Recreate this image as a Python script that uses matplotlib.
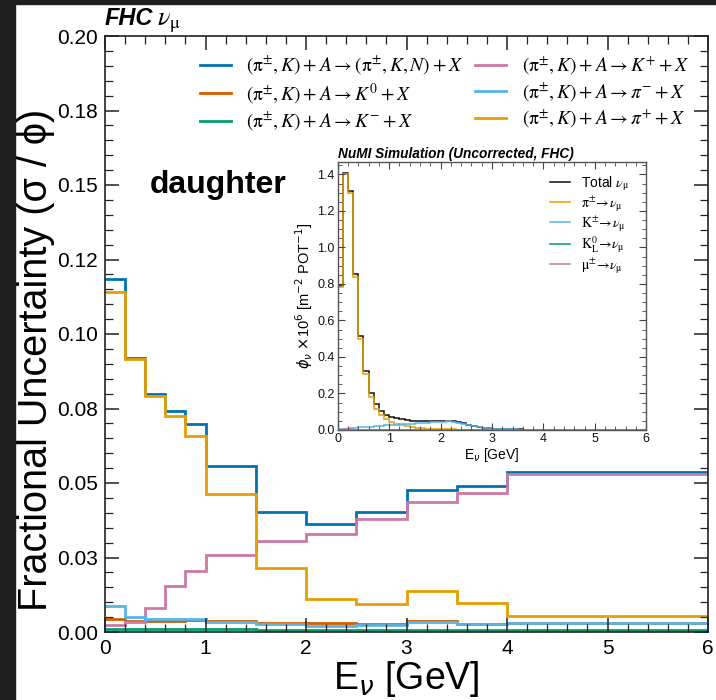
import matplotlib
matplotlib.use("Agg")
import matplotlib.pyplot as plt
import numpy as np
from matplotlib.lines import Line2D
from matplotlib.patches import Rectangle
from matplotlib.ticker import MultipleLocator, FixedLocator, FixedFormatter, FormatStrFormatter

plt.rcParams['font.family'] = ['Liberation Sans', 'DejaVu Sans']
plt.rcParams['mathtext.fontset'] = 'stix'

# ---- fractional uncertainty from hadron production, by daughter category ----
bin_edges = [0, 0.2, 0.4, 0.6, 0.8, 1.0, 1.5, 2.0, 2.5, 3.0, 3.5, 4.0, 6.0]
unc_all = [0.1185, 0.0921, 0.0799, 0.0743, 0.0699, 0.0557, 0.0402, 0.0364, 0.0404, 0.0477, 0.0490, 0.0537]
unc_k0 = [0.0043, 0.0036, 0.0036, 0.0038, 0.0039, 0.0038, 0.0030, 0.0030, 0.0027, 0.0036, 0.0028, 0.0030]
unc_kminus = [0.0011, 0.0009, 0.0009, 0.0009, 0.0009, 0.0009, 0.0008, 0.0008, 0.0008, 0.0008, 0.0008, 0.0008]
unc_kplus = [0.0022, 0.0034, 0.0082, 0.0153, 0.0204, 0.0258, 0.0305, 0.0328, 0.0378, 0.0436, 0.0467, 0.0530]
unc_piminus = [0.0087, 0.0049, 0.0044, 0.0044, 0.0042, 0.0033, 0.0027, 0.0019, 0.0023, 0.0033, 0.0026, 0.0031]
unc_piplus = [0.1142, 0.0915, 0.0793, 0.0726, 0.0658, 0.0462, 0.0214, 0.0111, 0.0094, 0.0137, 0.0097, 0.0053]

series_labels = [
    r'$(\mathrm{\pi}^{\pm}, K) + A \rightarrow (\mathrm{\pi}^{\pm}, K, N) + X$',
    r'$(\mathrm{\pi}^{\pm}, K) + A \rightarrow K^{0} + X$',
    r'$(\mathrm{\pi}^{\pm}, K) + A \rightarrow K^{-} + X$',
    r'$(\mathrm{\pi}^{\pm}, K) + A \rightarrow K^{+} + X$',
    r'$(\mathrm{\pi}^{\pm}, K) + A \rightarrow \pi^{-} + X$',
    r'$(\mathrm{\pi}^{\pm}, K) + A \rightarrow \pi^{+} + X$',
]
series_values = [unc_all, unc_k0, unc_kminus, unc_kplus, unc_piminus, unc_piplus]
series_colors = ['#0072B2', '#D55E00', '#009E73', '#CC79A7', '#56B4E9', '#E69F00']

y_ticks = [0.0, 0.025, 0.05, 0.075, 0.10, 0.125, 0.15, 0.175, 0.20]
y_ticklabels = ['0.00', '0.03', '0.05', '0.08', '0.10', '0.12', '0.15', '0.18', '0.20']

# ---- inset: simulated muon-neutrino flux by parent ----
flux_edges = np.linspace(0, 6, 61)
flux_total = [0.788, 1.410, 1.309, 0.855, 0.516, 0.324, 0.200, 0.140, 0.106, 0.084,
              0.072, 0.065, 0.059, 0.055, 0.052, 0.051, 0.050, 0.050, 0.051, 0.051,
              0.051, 0.051, 0.049, 0.044, 0.036, 0.029, 0.023, 0.017, 0.013, 0.010,
              0.008, 0.0062, 0.0051, 0.0043, 0.0035, 0.0029, 0.0025, 0.0021, 0.0018, 0.0016,
              0.0014, 0.0012, 0.0011, 0.0010, 0.0009, 0.0008, 0.0007, 0.0007, 0.0006, 0.0006,
              0.0005, 0.0005, 0.0005, 0.0004, 0.0004, 0.0004, 0.0003, 0.0003, 0.0003, 0.0003]
flux_pi = [0.781, 1.400, 1.296, 0.840, 0.498, 0.305, 0.179, 0.117, 0.082, 0.058,
           0.044, 0.035, 0.027, 0.021, 0.016, 0.013, 0.010, 0.008, 0.0065, 0.0052,
           0.0042, 0.0034, 0.0028, 0.0023, 0.0019, 0.0015, 0.0012, 0.0010, 0.0008, 0.0007,
           0.0006, 0.0005, 0.0004, 0.0004, 0.0003, 0.0003, 0.0003, 0.0002, 0.0002, 0.0002,
           0.0002, 0.0002, 0.0002, 0.0001, 0.0001, 0.0001, 0.0001, 0.0001, 0.0001, 0.0001,
           0.0001, 0.0001, 0.0001, 0.0001, 0.0001, 0.0001, 0.0001, 0.0001, 0.0001, 0.0001]
flux_k = [0.004, 0.007, 0.010, 0.012, 0.015, 0.017, 0.019, 0.021, 0.023, 0.025,
          0.027, 0.029, 0.031, 0.033, 0.035, 0.037, 0.039, 0.041, 0.043, 0.045,
          0.046, 0.047, 0.046, 0.041, 0.034, 0.027, 0.021, 0.016, 0.012, 0.009,
          0.007, 0.0055, 0.0045, 0.0037, 0.0030, 0.0025, 0.0021, 0.0018, 0.0015, 0.0013,
          0.0011, 0.0010, 0.0009, 0.0008, 0.0007, 0.0006, 0.0006, 0.0005, 0.0005, 0.0004,
          0.0004, 0.0004, 0.0003, 0.0003, 0.0003, 0.0003, 0.0002, 0.0002, 0.0002, 0.0002]
flux_k0l = [0.0004, 0.0006, 0.0008, 0.0009, 0.0010, 0.0010, 0.0011, 0.0011, 0.0011, 0.0011,
            0.0011, 0.0011, 0.0011, 0.0010, 0.0010, 0.0010, 0.0009, 0.0009, 0.0008, 0.0008,
            0.0007, 0.0007, 0.0006, 0.0006, 0.0005, 0.0005, 0.0004, 0.0004, 0.0004, 0.0003,
            0.0003, 0.0003, 0.0003, 0.0002, 0.0002, 0.0002, 0.0002, 0.0002, 0.0002, 0.0001,
            0.0001, 0.0001, 0.0001, 0.0001, 0.0001, 0.0001, 0.0001, 0.0001, 0.0001, 0.0001,
            0.0001, 0.0001, 0.0001, 0.0001, 0.0001, 0.0001, 0.0001, 0.0001, 0.0001, 0.0001]
flux_mu = [0.0020, 0.0030, 0.0030, 0.0025, 0.0020, 0.0016, 0.0012, 0.0010, 0.0008, 0.0006,
           0.0005, 0.0004, 0.0003, 0.0003, 0.0002, 0.0002, 0.0002, 0.0001, 0.0001, 0.0001,
           0.0001, 0.0001, 0.0001, 0.0001, 0.0001, 0.0001, 0.0001, 0.0001, 0.0001, 0.0001,
           0.0, 0.0, 0.0, 0.0, 0.0, 0.0, 0.0, 0.0, 0.0, 0.0,
           0.0, 0.0, 0.0, 0.0, 0.0, 0.0, 0.0, 0.0, 0.0, 0.0,
           0.0, 0.0, 0.0, 0.0, 0.0, 0.0, 0.0, 0.0, 0.0, 0.0]
flux_labels = [r'Total $\nu_{\mathrm{\mu}}$', r'$\mathrm{\pi^{\pm}}\!\rightarrow\!\nu_{\mathrm{\mu}}$',
               r'$\mathrm{K^{\pm}}\!\rightarrow\!\nu_{\mathrm{\mu}}$',
               r'$\mathrm{K^{0}_{L}}\!\rightarrow\!\nu_{\mathrm{\mu}}$',
               r'$\mathrm{\mu^{\pm}}\!\rightarrow\!\nu_{\mathrm{\mu}}$']
flux_values = [flux_total, flux_pi, flux_k, flux_k0l, flux_mu]
flux_colors = ['#111111', '#E69F00', '#56B4E9', '#009E73', '#CC79A7']

W, H = 716, 700
fig = plt.figure(figsize=(W / 100, H / 100), dpi=100)
fig.patch.set_facecolor('white')

# dark frame strips along the left and top edges
fig.patches.append(Rectangle((0, 0), 15 / W, 1, transform=fig.transFigure,
                             color='#1e1e1e', zorder=0))
fig.patches.append(Rectangle((0, 1 - 3.5 / H), 1, 3.5 / H, transform=fig.transFigure,
                             color='#1e1e1e', zorder=0))

ax = fig.add_axes([105 / W, 1 - 632 / H, 603 / W, 596 / H])
for vals, col in zip(series_values, series_colors):
    ax.stairs(vals, bin_edges, color=col, lw=2.0, baseline=None)

ax.set_xlim(0, 6)
ax.set_ylim(0, 0.2)
ax.xaxis.set_major_locator(MultipleLocator(1))
ax.xaxis.set_minor_locator(MultipleLocator(0.2))
ax.yaxis.set_major_locator(FixedLocator(y_ticks))
ax.yaxis.set_major_formatter(FixedFormatter(y_ticklabels))
ax.yaxis.set_minor_locator(MultipleLocator(0.005))
ax.tick_params(which='both', direction='in', top=True, right=True, colors='#222222',
               labelcolor='black')
ax.tick_params(which='major', length=10, width=1.1, labelsize=15, pad=5)
ax.tick_params(which='minor', length=5.5, width=0.9)
for sp in ax.spines.values():
    sp.set_color('#222222')
    sp.set_linewidth(1.2)

ax.set_xlabel(r'E$_{\nu}$ [GeV]', fontsize=27, math_fontfamily='dejavusans', labelpad=0.5)
ax.set_ylabel('Fractional Uncertainty (σ / ϕ)', fontsize=28.5)
ax.yaxis.set_label_coords(-0.083, 0.456)

handles = [Line2D([], [], color=c, lw=2.0) for c in series_colors]
ax.legend(handles, series_labels, ncol=2, loc='upper right', frameon=False,
          fontsize=14, handlelength=1.6, handletextpad=0.8, columnspacing=0.6,
          labelspacing=0.22, borderaxespad=0.55)

ax.text(0.0746, 0.7366, 'daughter', transform=ax.transAxes, fontsize=23,
        fontweight='bold', va='baseline', ha='left')

fig.text(105 / W, 1 - 25 / H, 'FHC', fontsize=17, fontweight='bold', style='italic',
         va='baseline', ha='left')
fig.text(157 / W, 1 - 25 / H, r'$\nu_{\mathrm{\mu}}$', fontsize=19, va='baseline', ha='left')

# ---- inset flux panel ----
ins = fig.add_axes([337.7 / W, 1 - 430 / H, 308.5 / W, 268.3 / H])
for vals, col in zip(flux_values, flux_colors):
    ins.stairs(vals, flux_edges, color=col, lw=1.1)
ins.set_xlim(0, 6)
ins.set_ylim(0, 1.47)
ins.xaxis.set_major_locator(MultipleLocator(1))
ins.xaxis.set_minor_locator(MultipleLocator(0.2))
ins.yaxis.set_major_locator(MultipleLocator(0.2))
ins.yaxis.set_minor_locator(MultipleLocator(0.05))
ins.yaxis.set_major_formatter(FormatStrFormatter('%.1f'))
ins.tick_params(which='both', direction='in', top=True, right=True, colors='#444444',
                labelcolor='#111111')
ins.tick_params(which='major', length=5, width=0.8, labelsize=9, pad=2)
ins.tick_params(which='minor', length=2.8, width=0.6)
for sp in ins.spines.values():
    sp.set_color('#555555')
    sp.set_linewidth(1.0)
ins.set_xlabel(r'E$_{\nu}$ [GeV]', fontsize=10, math_fontfamily='dejavusans', labelpad=1)
ins.set_ylabel(r'$\phi_{\nu}$ $\times$10$^{6}$ [m$^{-2}$ POT$^{-1}$]', fontsize=10.5,
               math_fontfamily='dejavusans', labelpad=2)
ins.set_title('NuMI Simulation (Uncorrected, FHC)', loc='left', fontsize=9.8,
              fontweight='bold', style='italic', pad=3)
ins_handles = [Line2D([], [], color=c, lw=1.1) for c in flux_colors]
ins.legend(ins_handles, flux_labels, loc='upper right', frameon=False, fontsize=10,
           handlelength=1.4, handletextpad=0.8, labelspacing=0.08,
           bbox_to_anchor=(0.985, 1.0))

fig.savefig('out.png', dpi=100)
